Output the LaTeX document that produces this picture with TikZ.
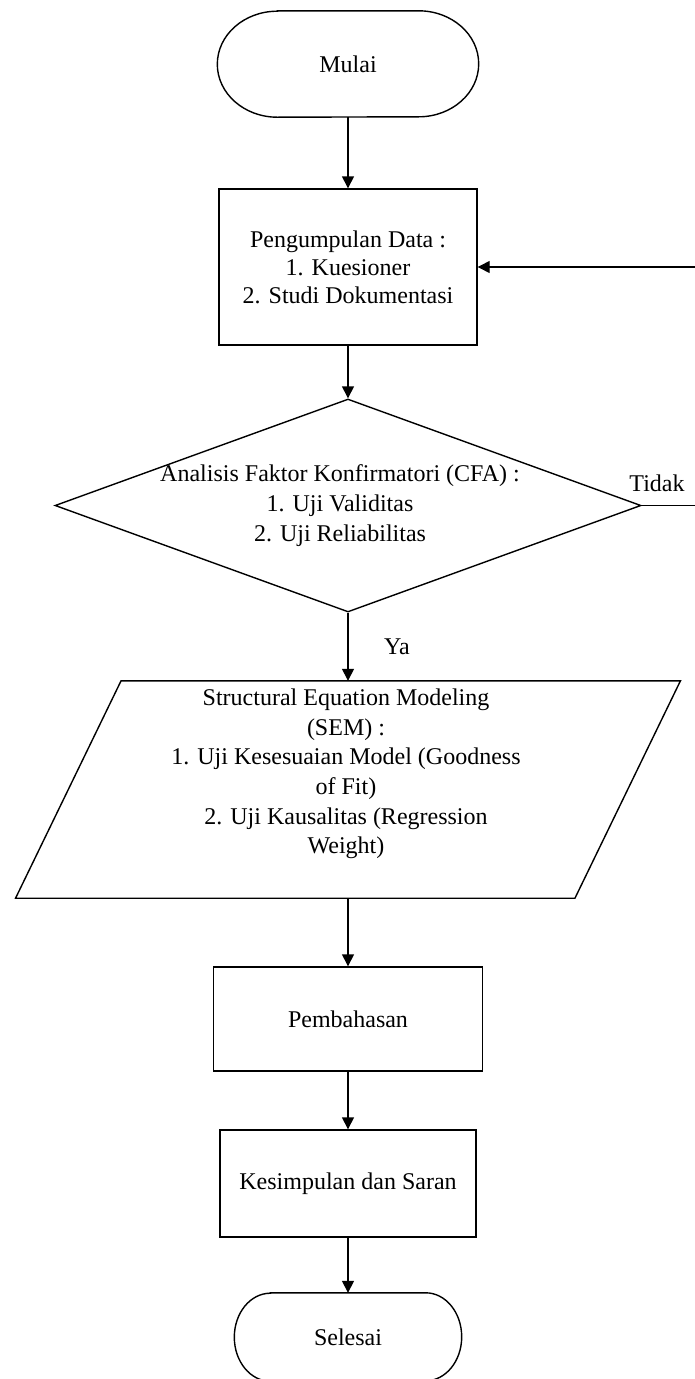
\documentclass[tikz,border=0pt]{standalone}
\usepackage{fontspec}
\setmainfont{Liberation Serif}
\usetikzlibrary{arrows.meta,shapes.geometric,calc}
\begin{document}
\begin{tikzpicture}[x=1pt,y=-1pt,
  every node/.style={font=\fontsize{24}{28}\selectfont,inner sep=0pt},
  ln/.style={line width=1.4pt},
  arr/.style={line width=1.4pt,-{Triangle[length=12pt,width=12pt]}},
  procbox/.style={draw,line width=1.4pt,rectangle,align=center},
  ghost/.style={rectangle,align=center},
  txt/.style={align=center}]
\useasboundingbox (0,0) rectangle (695,1379);

% start terminal
\node[ghost,minimum width=261pt,minimum height=106pt] (mulai) at (348,64) {Mulai};
\draw[ln] ($(mulai.north west)+(60,0)$) -- ($(mulai.north east)+(-60,0)$)
  arc[start angle=90,end angle=-90,x radius=60pt,y radius=53pt]
  -- ($(mulai.south west)+(60,0)$)
  arc[start angle=270,end angle=90,x radius=60pt,y radius=53pt] -- cycle;

% data collection
\node[procbox,minimum width=258pt,minimum height=156pt] (data) at (348,267)
  {Pengumpulan Data :\\1. Kuesioner\\2. Studi Dokumentasi};

% CFA decision
\node[draw,ln,shape=diamond,minimum width=586pt,minimum height=213pt] (cfa) at (348,505.5) {};
\node[txt,font=\fontsize{24}{30}\selectfont] (cfatxt) at (340,506)
  {Analisis Faktor Konfirmatori (CFA) :\\1. Uji Validitas\\2. Uji Reliabilitas};

% SEM input/output
\node[ghost,minimum width=559pt,minimum height=217pt] (sem) at (348,789.5) {};
\draw[ln] ($(sem.north west)+(52.75,0)$) -- ($(sem.north east)+(52.75,0)$)
  -- ($(sem.south east)+(-52.75,0)$) -- ($(sem.south west)+(-52.75,0)$) -- cycle;
\node[txt,font=\fontsize{24}{29.6}\selectfont] (semtxt) at (346,774)
  {Structural Equation Modeling\\(SEM) :\\1. Uji Kesesuaian Model (Goodness\\of Fit)\\2. Uji Kausalitas (Regression\\Weight)};

% discussion and conclusion
\node[procbox,minimum width=269pt,minimum height=104pt] (bahas) at (348,1019) {Pembahasan};
\node[procbox,minimum width=256pt,minimum height=107pt] (simpul) at (348,1183.5) {Kesimpulan dan Saran};

% end terminal
\node[ghost,minimum width=227pt,minimum height=88pt] (selesai) at (348,1337) {Selesai};
\draw[ln] ($(selesai.north west)+(36,0)$) -- ($(selesai.north east)+(-36,0)$)
  arc[start angle=90,end angle=-90,x radius=36pt,y radius=44pt]
  -- ($(selesai.south west)+(36,0)$)
  arc[start angle=270,end angle=90,x radius=36pt,y radius=44pt] -- cycle;

% branch labels
\node (tidak) at (657,483) {Tidak};
\node (ya) at (397,647) {Ya};

% connectors
\draw[arr] (mulai.south) -- (data.north);
\draw[arr] (data.south) -- (cfa.north);
\draw[arr] (cfa.south) -- (sem.north);
\draw[arr] (sem.south) -- (bahas.north);
\draw[arr] (bahas.south) -- (simpul.north);
\draw[arr] (simpul.south) -- (selesai.north);
\draw[arr] (cfa.east) -- (760,505.5) |- (data.east);
\end{tikzpicture}
\end{document}
